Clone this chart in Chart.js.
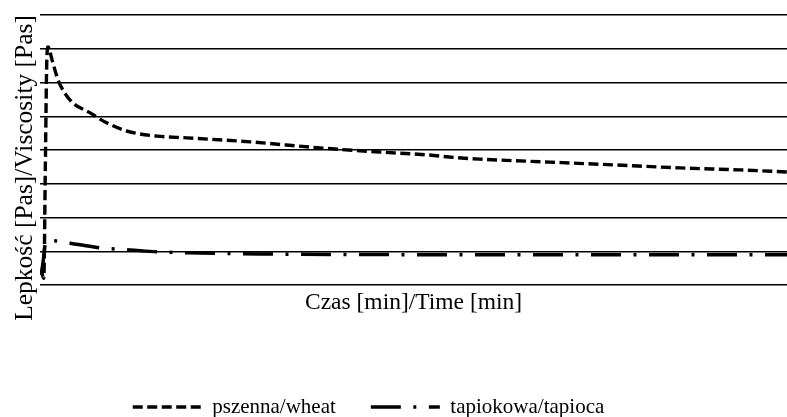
<!DOCTYPE html>
<html>
<head>
<meta charset="utf-8">
<script src="https://cdn.jsdelivr.net/npm/chart.js@4/dist/chart.umd.min.js"></script>
<style>
  body { margin: 0; background: #fff; }
</style>
</head>
<body>
<canvas id="viscChart" width="787" height="417"></canvas>
<script>
// time in minutes, viscosity in arbitrary grid units (no tick labels on the original)
const wheatTime = [0.08, 0.3, 0.42, 0.55, 0.64, 0.96, 1.45, 2.41, 4.02, 5.22, 6.99, 9.4, 11.8, 16.9, 22.5, 27.3, 31.3, 33.2, 35.3, 41.0, 46.0, 51.4, 56.2, 60];
const wheatVisc = [0.45, 0.2, 3.5, 6.8, 7.05, 6.67, 6.07, 5.48, 5.10, 4.83, 4.56, 4.41, 4.36, 4.24, 4.06, 3.94, 3.85, 3.78, 3.73, 3.64, 3.56, 3.47, 3.41, 3.35];

const tapiocaTime = [0.08, 0.24, 0.4, 0.64, 1.37, 2.41, 4.82, 7.23, 9.64, 12.85, 17.7, 28.9, 45.0, 60];
const tapiocaVisc = [0.3, 0.68, 1.19, 1.33, 1.30, 1.24, 1.10, 1.04, 0.98, 0.95, 0.92, 0.90, 0.90, 0.90];

const seriesLabels = ["pszenna/wheat", "tapiokowa/tapioca"];
const xTitle = "Czas [min]/Time [min]";
const yTitle = "Lepkość [Pas]/Viscosity [Pas]";

function toPoints(xs, ys) {
  return xs.map((x, i) => ({ x: x, y: ys[i] }));
}

// moves the legend left and down a bit, like the original
const legendShift = {
  id: "legendShift",
  afterLayout(chart) {
    const lg = chart.legend;
    lg.left -= 25;
    lg.right -= 25;
    lg.top += 10.5;
    lg.bottom += 10.5;
  },
};

const ctx = document.getElementById("viscChart").getContext("2d");

new Chart(ctx, {
  type: "line",
  data: {
    datasets: [
      {
        label: seriesLabels[0],
        data: toPoints(wheatTime, wheatVisc),
        borderColor: "#000",
        backgroundColor: "#000",
        borderWidth: 3.4,
        borderDash: [10, 4.5],
        borderCapStyle: "butt",
        pointRadius: 0,
        cubicInterpolationMode: "monotone",
      },
      {
        label: seriesLabels[1],
        data: toPoints(tapiocaTime, tapiocaVisc),
        borderColor: "#000",
        backgroundColor: "#000",
        borderWidth: 3.5,
        borderDash: [30, 12.5, 3, 12.5],
        borderCapStyle: "butt",
        pointRadius: 0,
        cubicInterpolationMode: "monotone",
      },
    ],
  },
  options: {
    responsive: false,
    animation: false,
    layout: { padding: { top: 15, bottom: 0, left: 0, right: 0 } },
    scales: {
      x: {
        type: "linear",
        min: 0,
        max: 60,
        grid: { display: false, drawTicks: false },
        border: { display: false },
        ticks: { display: false },
        title: {
          display: true,
          text: xTitle,
          color: "#000",
          font: { family: "Liberation Serif", size: 23.5 },
          padding: { top: 3.5, bottom: 34.3 },
        },
      },
      y: {
        min: 0,
        max: 8,
        ticks: { display: false, stepSize: 1 },
        grid: { color: "#000", lineWidth: 1.5, drawTicks: false },
        border: { display: false },
        title: {
          display: true,
          text: yTitle,
          align: "end",
          color: "#000",
          font: { family: "Liberation Serif", size: 25.5 },
          padding: { top: 9.5, bottom: 0 },
        },
      },
    },
    plugins: {
      legend: {
        position: "bottom",
        labels: {
          usePointStyle: true,
          pointStyle: "line",
          pointStyleWidth: 69,
          padding: 35,
          color: "#000",
          font: { family: "Liberation Serif", size: 21 },
          generateLabels(chart) {
            const items = Chart.defaults.plugins.legend.labels.generateLabels(chart);
            items.forEach((item, i) => {
              const ds = chart.data.datasets[i];
              item.lineDash = ds.borderDash;
              item.lineWidth = ds.borderWidth;
              item.strokeStyle = ds.borderColor;
              item.lineCap = "butt";
            });
            return items;
          },
        },
      },
      tooltip: { enabled: false },
    },
  },
  plugins: [legendShift],
});
</script>
</body>
</html>
